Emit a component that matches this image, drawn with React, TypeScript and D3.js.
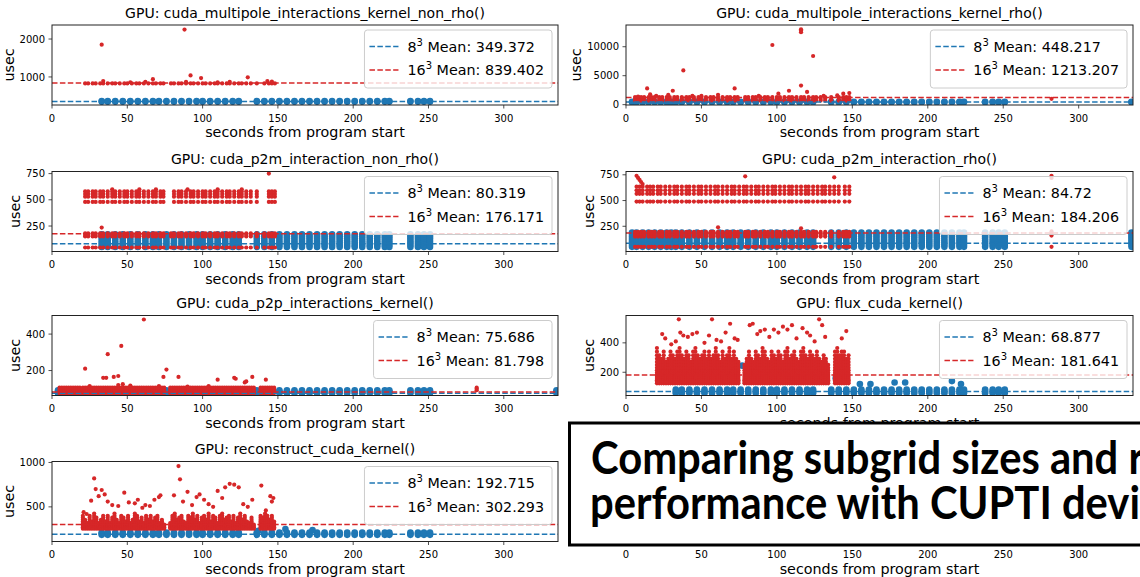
import React from 'react';
import * as d3 from 'd3';

type Pt = [number, number];

const BLUE = '#1f77b4';
const RED = '#d62728';
const FONT = '"DejaVu Sans", sans-serif';

// launch timelines (seconds from program start)
const redTimes = [
  20.5, 22, 23.5, 25, 26.5, 28, 29.5, 31, 32.5, 34, 35.5, 37, 38.5, 40, 41.5, 43, 44.5, 46, 47.5, 49, 50.5, 52, 53.5, 55, 56.5, 58, 59.5, 61, 62.5, 64, 65.5, 67, 68.5, 70, 71.5, 73, 74.5,
  78.5, 80, 81.5, 83, 84.5, 86, 87.5, 89, 90.5, 92, 93.5, 95, 96.5, 98, 99.5, 101, 102.5, 104, 105.5, 107, 108.5, 110, 111.5, 113, 114.5, 116, 117.5, 119, 120.5, 122, 123.5, 125, 126.5, 128, 129.5, 131, 132.5, 134,
  138.5, 140, 141.5, 143, 144.5, 146, 147.5,
];
const redSparse = [22, 24, 27, 29, 32, 34, 37, 40, 42, 45, 48, 50, 53, 56, 58, 61, 64, 67, 69, 72, 74, 79, 81, 84, 86, 89, 92, 94, 97, 100, 102, 105, 108, 110, 113, 116, 118, 121, 124, 126, 129, 132, 136, 141, 144, 146, 148];
const redSparseRho = [6, 8, 10, 12, 15, 17, 19, ...redSparse];
const redTimesRho = [5, 6.5, 8, 9.5, 11, 12.5, 14, 15.5, 17, 18.5, ...redTimes];
const blueTimes = [
  33, 37, 42, 47, 52, 57, 62, 67, 71, 76, 81, 86, 91, 96, 100, 105, 110, 115, 120, 124,
  136, 141, 146, 151, 156, 161, 166, 171, 176, 181, 186, 191, 196, 201, 206, 211, 216, 221, 224,
  238, 243, 247, 251,
];
const blueTimesRho = [4, 7, 11, 15, 19, 23, 27, 30, ...blueTimes, 335];

const titles = [
  'GPU: cuda_multipole_interactions_kernel_non_rho()',
  'GPU: cuda_multipole_interactions_kernel_rho()',
  'GPU: cuda_p2m_interaction_non_rho()',
  'GPU: cuda_p2m_interaction_rho()',
  'GPU: cuda_p2p_interactions_kernel()',
  'GPU: flux_cuda_kernel()',
  'GPU: reconstruct_cuda_kernel()',
];
const blueMeans = [349.372, 448.217, 80.319, 84.72, 75.686, 68.877, 192.715];
const redMeans = [839.402, 1213.207, 176.171, 184.206, 81.798, 181.641, 302.293];
const blueMeanLabels = ['349.372', '448.217', '80.319', '84.72', '75.686', '68.877', '192.715'];
const redMeanLabels = ['839.402', '1213.207', '176.171', '184.206', '81.798', '181.641', '302.293'];
const yDomains: Pt[] = [[260, 2370], [-60, 13750], [7, 770], [5, 782], [63, 502], [42, 586], [110, 1011]];
const yTicks = [[1000, 2000], [0, 5000, 10000], [250, 500, 750], [250, 500, 750], [200, 400], [200, 400], [500, 1000]];
const xTicks = [0, 50, 100, 150, 200, 250, 300];

// panel 1
const p1BlueLevels = [345, 365];
const p1RedLevels = [830];
const p1RedOut: Pt[] = [[33, 1850], [88, 2250], [92, 1040], [99, 970], [130, 990], [67, 940], [34, 890], [143, 890], [146, 880], [89, 870], [62, 870], [118, 870], [52, 860], [110, 860]];
// panel 2
const p2BlueLevels = [400, 480];
const p2RedLevels = [700, 1000, 1300];
const p2RedOut: Pt[] = [[8, 1400], [14, 2800], [16, 1800], [28, 1700], [31, 2400], [38, 5900], [61, 1700], [72, 2800], [97, 10300], [101, 1900], [108, 2400], [116, 12800], [116, 12500], [116, 13000], [116, 3300], [120, 2200], [124, 8400], [144, 1900], [148, 2000], [282, 1000], [50, 1500], [88, 1500], [140, 1600], [20, 1500], [44, 1500], [131, 1500]];
// panel 3
const p3BlueLevels = [50, 70, 90, 110, 130, 150, 170];
const p3RedLowLevels = [45, 150, 165, 180];
const p3UpperX = [22, 24, 27, 29, 32, 34, 37, 40, 42, 45, 48, 50, 53, 56, 58, 61, 64, 67, 69, 72, 74, 81, 84, 86, 89, 92, 94, 97, 100, 102, 105, 108, 110, 113, 116, 118, 121, 124, 126, 129, 132, 136, 144, 146, 148];
const p3UpperLevels = [480, 530, 555, 580];
const p3RedOut: Pt[] = [[33, 235], [144, 750], [40, 600], [58, 600], [69, 600], [90, 600], [110, 600], [126, 600]];
// panel 4
const p4BlueLevels = [50, 70, 90, 110, 130, 150, 170, 190];
const p4RedLowLevels = [50, 150, 165, 180, 195];
const p4UpperX = [7, 9, 11, 14, 16, 18, 21, 23, 26, 29, 32, 34, 37, 40, 42, 45, 48, 50, 53, 56, 59, 61, 64, 67, 70, 72, 75, 78, 80, 83, 86, 88, 91, 94, 97, 99, 102, 105, 108, 110, 113, 116, 119, 121, 124, 127, 130, 132, 135, 138, 141, 145, 148];
const p4UpperLevels = [490, 565, 600, 635];
const p4RedOut: Pt[] = [[7, 740], [8, 720], [9, 700], [10, 680], [11, 660], [8, 575], [79, 735], [138, 725], [61, 240], [116, 230], [282, 740], [282, 720], [282, 200], [282, 180], [282, 160], [282, 50]];
// panel 5
const p5BlueLevels = [76, 84, 92];
const p5RedLevels = [76, 86, 96, 106];
const p5RedOut: Pt[] = [[22, 210], [34, 160], [36, 160], [37, 290], [41, 165], [44, 170], [46, 335], [61, 480], [71, 115], [74, 165], [76, 205], [84, 165], [110, 150], [121, 160], [122, 155], [128, 135], [129, 140], [133, 165], [142, 150], [44, 120], [47, 125], [25, 115], [52, 118], [90, 112], [104, 115], [282, 92], [282, 100], [282, 106]];
// panel 6
const p6BlueLevels = [58, 70, 82];
const p6BlueOut: Pt[] = [[77, 245], [139, 160], [155, 120], [162, 120], [178, 130], [185, 130], [216, 140], [222, 120]];
const p6RedLevels = [125, 135, 145, 155, 168, 182, 197, 213, 230, 250, 270, 292, 315, 340, 365];
const p6RedTop = [
  380, 330, 300, 350, 290, 310, 360, 330, 300, 340, 380, 320, 300, 350, 330, 290, 340, 370, 320, 300, 330, 350, 310, 360, 300, 330, 380, 320, 290, 340, 300, 330, 370, 310, 350, 300, 280,
  260, 300, 340, 310, 280, 360, 330, 300, 370, 340, 310, 290, 350, 330, 300, 360, 320, 280, 340, 370, 300, 330, 350, 310, 290, 340, 380, 320, 300, 350, 330, 310, 360, 300, 280, 330, 300, 260,
  350, 380, 320, 360, 340, 300, 330,
];
const p6RedOut: Pt[] = [[24, 460], [26, 430], [30, 390], [33, 410], [35, 560], [36, 470], [38, 450], [41, 440], [44, 460], [47, 470], [52, 400], [55, 450], [57, 560], [60, 420], [63, 410], [66, 470], [69, 530], [72, 430], [74, 420], [82, 520], [84, 530], [87, 460], [89, 480], [92, 490], [95, 440], [98, 490], [101, 470], [104, 510], [107, 490], [110, 520], [113, 430], [117, 500], [120, 470], [122, 450], [125, 410], [128, 560], [130, 520], [132, 440], [143, 430], [146, 480]];
// panel 7
const p7BlueLevels = [185, 198, 212];
const p7BlueOut: Pt[] = [[155, 250], [173, 240], [137, 230]];
const p7RedLevels = [255, 270, 285, 300, 317, 335, 355, 378, 400, 425, 450];
const p7RedTop = [
  420, 360, 330, 400, 350, 445, 380, 330, 360, 420, 350, 400, 330, 380, 445, 360, 330, 400, 380, 350, 420, 330, 360, 445, 400, 350, 380, 330, 420, 360, 400, 345, 380, 420, 330, 360, 300,
  330, 400, 445, 360, 380, 420, 350, 330, 400, 380, 445, 360, 420, 330, 380, 400, 360, 445, 350, 420, 380, 330, 400, 445, 360, 380, 420, 350, 400, 330, 380, 445, 360, 420, 350, 330, 380, 300,
  420, 380, 445, 400, 360, 420, 350,
];
const p7RedOut: Pt[] = [[21, 440], [23, 420], [26, 570], [28, 820], [29, 700], [31, 620], [33, 690], [35, 640], [37, 560], [40, 520], [44, 510], [48, 660], [51, 550], [55, 540], [57, 580], [60, 490], [62, 520], [65, 510], [68, 580], [71, 610], [72, 630], [81, 630], [84, 960], [85, 810], [87, 560], [90, 670], [93, 520], [96, 610], [98, 640], [101, 580], [104, 530], [107, 500], [110, 680], [113, 600], [115, 720], [118, 760], [121, 750], [124, 720], [127, 530], [130, 500], [133, 580], [139, 740], [142, 460], [145, 620], [147, 600], [146, 560]];

const grid = (xs: number[], ys: number[]): Pt[] => xs.flatMap(x => ys.map(y => [x, y] as Pt));
const stacks = (xs: number[], tops: number[], levels: number[]): Pt[] =>
  xs.flatMap((x, i) => levels.filter(l => l <= tops[i]).map(y => [x, y] as Pt));

const bluePts: Pt[][] = [
  grid(blueTimes, p1BlueLevels),
  grid(blueTimesRho, p2BlueLevels),
  grid(blueTimes, p3BlueLevels),
  grid(blueTimesRho, p4BlueLevels),
  grid(blueTimesRho, p5BlueLevels),
  [...grid(blueTimes, p6BlueLevels), ...p6BlueOut],
  [...grid(blueTimes, p7BlueLevels), ...p7BlueOut],
];
const redPts: Pt[][] = [
  [...grid(redSparse, p1RedLevels), ...p1RedOut],
  [...grid(redSparseRho, p2RedLevels), ...p2RedOut],
  [...grid(redSparse, p3RedLowLevels), ...grid(p3UpperX, p3UpperLevels), ...p3RedOut],
  [...grid(redSparseRho, p4RedLowLevels), ...grid(p4UpperX, p4UpperLevels), ...p4RedOut],
  [...grid(redTimesRho, p5RedLevels), ...p5RedOut],
  [...stacks(redTimes, p6RedTop, p6RedLevels), ...p6RedOut],
  [...stacks(redTimes, p7RedTop, p7RedLevels), ...p7RedOut],
];

const colLeft = [52, 626];
const colRight = [558, 1133];
const rowTop = [25, 171.5, 315.5, 461.5];
const axH = 80;

const ctx = document.createElement('canvas').getContext('2d') as CanvasRenderingContext2D;
function textW(s: string, size: number) {
  ctx.font = `${size}px "DejaVu Sans"`;
  return ctx.measureText(s).width;
}

const LEG = 14.3;
const SUP = 10;

function LegendRow({ x, y, color, base, value }: { x: number; y: number; color: string; base: string; value: string }) {
  return (
    <g>
      <line x1={x + 5} x2={x + 34} y1={y} y2={y} stroke={color} strokeWidth={1.5} strokeDasharray="5.5,2.4" />
      <text x={x + 43} y={y + 5} fontSize={LEG} fontFamily={FONT} style={{ whiteSpace: 'pre' }}>
        {base}
        <tspan fontSize={SUP} dy={-6}>3</tspan>
        <tspan dy={6}>{` Mean: ${value}`}</tspan>
      </text>
    </g>
  );
}

function Axes({ idx, col, row }: { idx: number; col: number; row: number }) {
  const left = colLeft[col];
  const right = colRight[col];
  const top = rowTop[row];
  const bottom = top + axH;
  const x = d3.scaleLinear().domain([0, 336]).range([left, right]);
  const hasData = idx < 7;
  const y = hasData ? d3.scaleLinear().domain(yDomains[idx]).range([bottom, top]) : null;
  const ticks = hasData ? yTicks[idx] : [];
  const maxTickW = d3.max(ticks, t => textW(String(t), 10)) || 0;
  const clipId = `clip${idx}`;

  let legend = null;
  if (hasData) {
    const w1 = textW('8', LEG) + textW('3', SUP) + textW(` Mean: ${blueMeanLabels[idx]}`, LEG);
    const w2 = textW('16', LEG) + textW('3', SUP) + textW(` Mean: ${redMeanLabels[idx]}`, LEG);
    const bw = 43 + Math.max(w1, w2) + 8;
    const bx = right - 6 - bw;
    const by = top + 5;
    legend = (
      <g>
        <rect x={bx} y={by} width={bw} height={58} rx={3} fill="white" fillOpacity={0.8} stroke="#cccccc" strokeWidth={1} />
        <LegendRow x={bx} y={by + 16.5} color={BLUE} base="8" value={blueMeanLabels[idx]} />
        <LegendRow x={bx} y={by + 40} color={RED} base="16" value={redMeanLabels[idx]} />
      </g>
    );
  }

  return (
    <g>
      <defs>
        <clipPath id={clipId}>
          <rect x={left} y={top} width={right - left} height={axH} />
        </clipPath>
      </defs>
      {hasData && y && (
        <g clipPath={`url(#${clipId})`}>
          {bluePts[idx].map((p, i) => (
            <circle key={`b${i}`} cx={x(p[0])} cy={y(p[1])} r={3.3} fill={BLUE} />
          ))}
          {redPts[idx].map((p, i) => (
            <circle key={`r${i}`} cx={x(p[0])} cy={y(p[1])} r={2.1} fill={RED} />
          ))}
          <line x1={left} x2={right} y1={y(blueMeans[idx])} y2={y(blueMeans[idx])} stroke={BLUE} strokeWidth={1.5} strokeDasharray="5.5,2.4" />
          <line x1={left} x2={right} y1={y(redMeans[idx])} y2={y(redMeans[idx])} stroke={RED} strokeWidth={1.5} strokeDasharray="5.5,2.4" />
        </g>
      )}
      <rect x={left} y={top} width={right - left} height={axH} fill="none" stroke="#222" strokeWidth={1} />
      {xTicks.map(t => (
        <g key={t}>
          <line x1={x(t)} x2={x(t)} y1={bottom} y2={bottom + 3.5} stroke="#222" strokeWidth={0.8} />
          <text x={x(t)} y={bottom + 16.5} fontSize={10} fontFamily={FONT} textAnchor="middle">{t}</text>
        </g>
      ))}
      {y && ticks.map(t => (
        <g key={t}>
          <line x1={left - 3.5} x2={left} y1={y(t)} y2={y(t)} stroke="#222" strokeWidth={0.8} />
          <text x={left - 7} y={y(t) + 3.6} fontSize={10} fontFamily={FONT} textAnchor="end">{t}</text>
        </g>
      ))}
      <text x={(left + right) / 2} y={bottom + 32} fontSize={14.3} fontFamily={FONT} textAnchor="middle">seconds from program start</text>
      {hasData && (
        <>
          <text x={(left + right) / 2} y={top - 7.5} fontSize={14} fontFamily={FONT} textAnchor="middle">{titles[idx]}</text>
          <text
            transform={`translate(${left - 7 - maxTickW - 6},${top + axH / 2}) rotate(-90)`}
            fontSize={14.3}
            fontFamily={FONT}
            textAnchor="middle"
          >usec</text>
        </>
      )}
      {legend}
    </g>
  );
}

export default function App() {
  const layout = [0, 1, 2, 3, 4, 5, 6, 7].map(i => ({ idx: i, col: i % 2, row: Math.floor(i / 2) }));
  return (
    <svg
      width={1140}
      height={577}
      style={{ position: 'absolute', left: 0, top: 0, background: 'white' }}
    >
      <rect x={0} y={0} width={1140} height={577} fill="white" />
      {layout.map(l => (
        <Axes key={l.idx} idx={l.idx} col={l.col} row={l.row} />
      ))}
      <rect x={569.5} y={423} width={620} height={122} fill="white" stroke="black" strokeWidth={3} />
      <text x={591} y={474} fontSize={45} fontWeight={700} fontFamily='Lato, "Noto Sans", sans-serif' textLength={553} lengthAdjust="spacingAndGlyphs">
        Comparing subgrid sizes and r
      </text>
      <text x={590} y={519} fontSize={45} fontWeight={700} fontFamily='Lato, "Noto Sans", sans-serif' textLength={550} lengthAdjust="spacingAndGlyphs">
        performance with CUPTI devi
      </text>
    </svg>
  );
}
